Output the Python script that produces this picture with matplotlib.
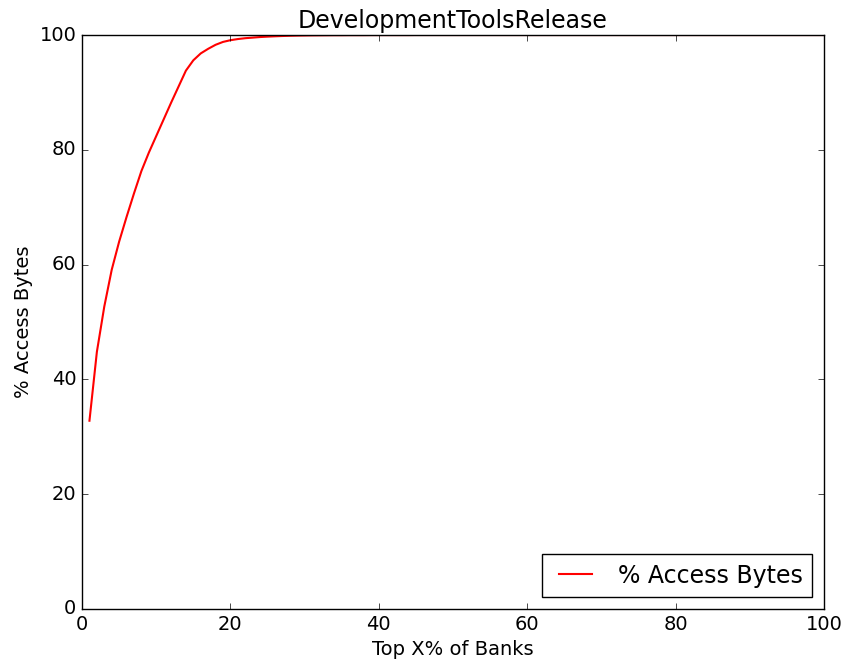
import matplotlib
matplotlib.use("Agg")
import matplotlib.pyplot as plt

plt.style.use("classic")

# top x% of banks vs cumulative % of access bytes
banks = list(range(1, 101))
access_bytes = [32.8, 44.8, 52.7, 59.1, 64.0, 68.3, 72.4, 76.3, 79.5, 82.4,
                85.3, 88.2, 91.0, 93.8, 95.6, 96.8, 97.6, 98.3, 98.8, 99.1,
                99.3, 99.45, 99.55, 99.65, 99.72, 99.78, 99.83, 99.87, 99.9, 99.92,
                99.94, 99.95, 99.96, 99.97, 99.97, 99.98, 99.98, 99.98, 99.99, 99.99,
                99.99, 99.99, 99.99, 99.99, 100, 100, 100, 100, 100, 100,
                100, 100, 100, 100, 100, 100, 100, 100, 100, 100,
                100, 100, 100, 100, 100, 100, 100, 100, 100, 100,
                100, 100, 100, 100, 100, 100, 100, 100, 100, 100,
                100, 100, 100, 100, 100, 100, 100, 100, 100, 100,
                100, 100, 100, 100, 100, 100, 100, 100, 100, 100]

fig = plt.figure(figsize=(8.44, 6.66), dpi=100, facecolor="white")
ax = fig.add_axes([0.0972, 0.0856, 0.8791, 0.8618])
ax.plot(banks, access_bytes, color="red", linewidth=1.5, label="% Access Bytes")

ax.set_xlim(0, 100)
ax.set_ylim(0, 100)
ax.set_xticks([0, 20, 40, 60, 80, 100])
ax.set_yticks([0, 20, 40, 60, 80, 100])
ax.tick_params(labelsize=14)
ax.set_xlabel("Top X% of Banks", fontsize=14)
ax.set_ylabel("% Access Bytes", fontsize=14)
ax.set_title("DevelopmentToolsRelease", fontsize=17)
ax.legend(loc="lower right", fontsize=17)

fig.savefig("out.png", dpi=100, facecolor="white")
